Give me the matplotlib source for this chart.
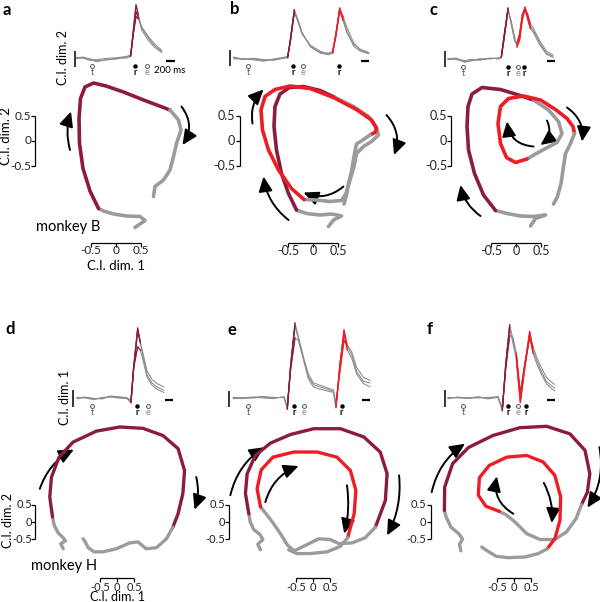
import matplotlib.pyplot as plt
from matplotlib.patches import FancyArrowPatch

plt.rcParams['font.family'] = ['Lato', 'DejaVu Sans']

DARK = '#8b1c3d'
RED = '#ee1d25'
GRAY = '#9b9b9b'
TGRAY = '#8a8a8a'

W, H = 600, 602

# ---------------- neural trajectories (C.I. dim. 1, C.I. dim. 2) ----------------
a_start = [(0.38, -1.73), (0.58, -1.59), (0.48, -1.51), (0.21, -1.50), (-0.05, -1.46),
           (-0.25, -1.40), (-0.35, -1.35)]
a_reach = [(-0.35, -1.35), (-0.52, -1.0), (-0.66, -0.55), (-0.73, -0.05), (-0.74, 0.45),
           (-0.71, 0.85), (-0.62, 1.08), (-0.45, 1.16), (-0.2, 1.1), (0.15, 0.98),
           (0.55, 0.82), (1.08, 0.62)]
a_end = [(1.08, 0.62), (1.25, 0.42), (1.30, 0.22), (1.21, -0.05), (1.15, -0.31),
         (1.08, -0.58), (0.95, -0.78), (0.78, -0.91), (0.75, -1.11)]

b_start = [(0.31, -1.71), (0.41, -1.58), (0.57, -1.5), (0.37, -1.46), (0.14, -1.48),
           (-0.13, -1.45), (-0.33, -1.38)]
b_reach1 = [(-0.33, -1.38), (-0.49, -1.05), (-0.63, -0.65), (-0.73, -0.18), (-0.78, 0.29),
            (-0.76, 0.69), (-0.66, 0.94), (-0.47, 1.07), (-0.19, 1.09), (0.14, 1.01),
            (0.44, 0.87)]
b_mid = [(0.44, 0.87), (0.81, 0.69), (1.11, 0.49), (1.26, 0.29), (1.31, 0.12), (1.17, -0.01),
         (1.01, -0.11), (0.87, -0.25), (0.82, -0.51), (0.74, -0.78), (0.66, -1.05),
         (0.57, -1.19), (0.34, -1.21), (0.07, -1.18), (-0.18, -1.17)]
b_reach2 = [(-0.18, -1.17), (-0.43, -0.95), (-0.69, -0.58), (-0.89, -0.18), (-1.01, 0.22),
            (-1.04, 0.62), (-0.96, 0.89), (-0.76, 1.03), (-0.46, 1.1), (-0.06, 1.05),
            (0.41, 0.87), (0.87, 0.63), (1.17, 0.42), (1.27, 0.25), (1.24, 0.17), (1.14, 0.12)]
b_end = [(1.14, 0.12), (1.01, 0.03), (0.87, -0.06), (0.82, -0.31), (0.77, -0.61),
         (0.71, -0.85), (0.67, -1.08), (0.62, -1.26)]

c_start = [(0.29, -1.7), (0.39, -1.55), (0.59, -1.48), (0.35, -1.51), (0.09, -1.5),
           (-0.18, -1.45), (-0.41, -1.39)]
c_reach1 = [(-0.41, -1.39), (-0.65, -1.08), (-0.83, -0.65), (-0.95, -0.18), (-0.98, 0.29),
            (-0.96, 0.69), (-0.88, 0.94), (-0.68, 1.07), (-0.31, 1.03), (0.05, 0.92),
            (0.35, 0.82)]
c_mid = [(0.35, 0.82), (0.65, 0.62), (0.85, 0.39), (0.92, 0.15), (0.82, -0.03),
         (0.59, -0.15), (0.39, -0.26), (0.22, -0.36)]
c_reach2 = [(0.22, -0.36), (-0.01, -0.43), (-0.19, -0.33), (-0.31, -0.05), (-0.36, 0.35),
            (-0.31, 0.69), (-0.15, 0.85), (0.15, 0.9), (0.49, 0.82), (0.79, 0.63),
            (1.02, 0.45), (1.14, 0.29), (1.17, 0.15)]
c_end = [(1.17, 0.15), (1.09, -0.05), (0.99, -0.25), (0.95, -0.51), (0.9, -0.85),
         (0.83, -1.11), (0.75, -1.26)]

d_start = [(-1.57, -0.78), (-1.64, -0.63), (-1.5, -0.55), (-1.57, -0.46), (-1.72, -0.31),
           (-1.83, -0.1), (-1.88, 0.15)]
d_reach = [(-1.88, 0.15), (-1.96, 0.73), (-1.91, 1.31), (-1.69, 1.89), (-1.28, 2.33),
           (-0.6, 2.65), (0.08, 2.77), (0.76, 2.73), (1.34, 2.52), (1.78, 2.14),
           (1.97, 1.5), (1.92, 0.83), (1.78, 0.24), (1.63, -0.15)]
d_end = [(1.63, -0.15), (1.44, -0.49), (1.15, -0.75), (0.85, -0.78), (0.61, -0.58),
         (0.37, -0.61), (-0.02, -0.78), (-0.41, -0.87), (-0.67, -0.87), (-0.84, -0.75),
         (-0.94, -0.55), (-0.99, -0.49)]

e_start = [(-1.53, -0.81), (-1.61, -0.65), (-1.46, -0.51), (-1.55, -0.36), (-1.73, -0.22),
           (-1.83, 0.0), (-1.87, 0.24)]
e_reach1 = [(-1.87, 0.24), (-1.97, 0.83), (-1.92, 1.41), (-1.68, 1.94), (-1.24, 2.3),
            (-0.66, 2.55), (0.02, 2.72), (0.8, 2.72), (1.48, 2.48), (1.96, 2.04),
            (2.16, 1.41), (2.11, 0.63), (1.82, -0.15)]
e_mid = [(1.82, -0.15), (1.52, -0.46), (1.14, -0.61), (0.75, -0.63), (0.5, -0.51),
         (0.17, -0.49), (-0.22, -0.68), (-0.54, -0.84), (-0.74, -0.68), (-0.95, -0.34),
         (-1.22, 0.05), (-1.53, 0.44)]
e_reach2 = [(-1.53, 0.44), (-1.63, 0.97), (-1.51, 1.52), (-1.17, 1.89), (-0.56, 2.04),
            (0.12, 2.04), (0.7, 1.89), (1.09, 1.5), (1.25, 0.92), (1.2, 0.24), (1.01, -0.46)]
e_end = [(1.01, -0.46), (0.8, -0.71), (0.41, -0.87), (-0.08, -0.92), (-0.47, -0.92),
         (-0.71, -0.81)]

f_start = [(-1.55, -0.84), (-1.59, -0.65), (-1.5, -0.5), (-1.61, -0.34), (-1.84, -0.15),
           (-1.98, 0.15), (-2.03, 0.34)]
f_reach1 = [(-2.03, 0.34), (-2.02, 1.02), (-1.79, 1.7), (-1.33, 2.17), (-0.62, 2.52),
            (0.17, 2.75), (0.95, 2.79), (1.63, 2.57), (2.07, 2.09), (2.21, 1.41),
            (2.14, 0.87), (1.97, 0.51)]
f_mid = [(1.97, 0.51), (1.81, 0.1), (1.53, -0.29), (1.19, -0.51), (0.76, -0.51),
         (0.37, -0.34), (0.03, 0.0), (-0.23, 0.21), (-0.43, 0.31)]
f_reach2 = [(-0.43, 0.31), (-0.82, 0.46), (-1.04, 0.78), (-1.01, 1.29), (-0.72, 1.65),
            (-0.21, 1.89), (0.37, 1.94), (0.85, 1.75), (1.19, 1.36), (1.36, 0.73),
            (1.34, 0.05), (1.19, -0.49), (0.97, -0.78)]
f_end = [(0.97, -0.78), (0.71, -0.92), (0.32, -1.02), (-0.17, -1.04), (-0.52, -1.0),
         (-0.78, -0.84), (-0.94, -0.73)]

# direction arrows: (start, end, curvature)
a_arrows = [((-0.92, -0.18), (-0.9, 0.59), -0.15), ((1.31, 0.69), (1.33, -0.08), -0.35)]
b_arrows = [((-1.21, 0.35), (-0.99, 1.03), -0.25), ((-0.49, -1.58), (-0.99, -0.71), -0.2),
            ((1.47, 0.52), (1.62, -0.28), -0.3), ((0.61, -0.91), (-0.19, -1.03), -0.3)]
c_arrows = [((-0.71, -1.5), (-1.11, -0.88), -0.2), ((0.35, -0.11), (-0.18, 0.39), -0.4),
            ((0.62, 0.41), (0.49, -0.08), -0.4), ((1.02, 0.67), (1.32, -0.01), -0.3)]
d_arrows = [((-2.25, 0.97), (-1.26, 2.11), -0.2), ((2.31, 1.31), (2.26, 0.36), -0.15)]
e_arrows = [((-2.41, 0.78), (-1.42, 2.18), -0.2), ((-1.39, 0.58), (-0.42, 1.63), -0.25),
            ((0.99, 1.07), (0.91, -0.34), -0.1), ((2.51, 1.36), (2.16, -0.39), -0.15)]
f_arrows = [((-2.4, 0.87), (-1.43, 2.28), -0.2), ((-0.02, 0.24), (-0.5, 1.33), -0.35),
            ((0.87, 1.14), (1.1, -0.03), -0.15), ((2.49, 2.18), (2.14, 0.42), -0.2)]

# ---------------- single-trial projections over time (ms, relative to first reach) ----------------
a_ms = [-1400, -1240, -1080, -920, -680, -440, -200, -104, -40, 24, 80, 160, 320, 480, 640]
a_tr1 = [0, 0.06, -0.1, -0.23, -0.1, -0.06, 0.06, 0.15, 1.77, 3.33, 2.71, 1.88, 1.25, 0.73, 0.42]
a_tr2 = [0.04, -0.02, -0.15, -0.1, -0.02, 0.02, 0.1, 0.2, 1.5, 2.6, 2.45, 1.95, 1.35, 0.85, 0.5]
a_tr3 = [-0.04, 0.02, -0.05, -0.18, -0.12, -0.02, 0.0, 0.1, 1.6, 2.9, 2.55, 1.75, 1.1, 0.65, 0.35]

b_ms = [-1424, -1184, -944, -704, -464, -224, -128, -64, 32, 112, 216, 416, 656, 856, 952,
        1032, 1120, 1200, 1296, 1456, 1616, 1816]
b_tr1 = [0.06, -0.1, -0.06, -0.15, -0.1, 0, 0.06, 1.15, 3.02, 2.4, 1.56, 0.73, 0.35, 0.31,
         0.42, 1.56, 3.13, 2.5, 1.67, 0.73, 0.42, 0.27]
b_tr2 = [0.0, -0.04, -0.12, -0.2, -0.06, 0.04, 0.1, 1.0, 2.85, 2.3, 1.5, 0.8, 0.42, 0.25,
         0.35, 1.4, 2.95, 2.6, 1.9, 0.95, 0.5, 0.3]
b_tr3 = [-0.04, -0.08, -0.02, -0.1, -0.14, -0.02, 0.02, 1.1, 2.95, 2.45, 1.6, 0.7, 0.3, 0.2,
         0.3, 1.5, 3.05, 2.35, 1.55, 0.85, 0.55, 0.35]

c_ms = [-1440, -1240, -1040, -880, -680, -440, -200, -160, -80, 0, 80, 160, 216, 280, 344,
        408, 472, 536, 600, 760, 920, 1080]
c_tr1 = [0, 0.06, -0.21, -0.08, -0.04, 0.04, 0.04, 0.13, 1.63, 3.19, 2.25, 1.21, 0.9, 1.42,
         2.67, 3.25, 2.67, 2.04, 1.83, 1.0, 0.38, 0.17]
c_tr2 = [0.04, -0.04, -0.15, -0.12, 0.02, 0.0, 0.08, 0.1, 1.5, 3.05, 2.35, 1.35, 0.75, 1.2,
         2.45, 3.1, 2.8, 2.2, 1.95, 1.15, 0.5, 0.25]
c_tr3 = [-0.04, 0.02, -0.1, -0.02, -0.08, 0.06, 0.0, 0.16, 1.7, 3.1, 2.1, 1.1, 1.0, 1.6,
         2.8, 3.15, 2.5, 1.9, 1.7, 0.9, 0.3, 0.1]

d_ms = [-1440, -1240, -1040, -840, -640, -440, -240, -144, -80, 16, 80, 160, 240, 360, 480, 640]
d_tr1 = [0, 0.06, -0.06, -0.02, 0.1, 0.04, 0, -0.21, 1.98, 4.38, 3.44, 2.4, 1.46, 0.94, 0.69, 0.48]
d_tr2 = [0.04, 0.0, -0.1, 0.04, 0.06, 0.0, -0.04, -0.3, 1.8, 4.2, 3.5, 2.6, 1.7, 1.15, 0.9, 0.7]
d_tr3 = [-0.04, 0.04, -0.02, -0.06, 0.12, 0.08, 0.02, -0.15, 1.9, 3.2, 3.0, 2.2, 1.3, 0.8, 0.55, 0.35]

e_ms = [-1456, -1216, -976, -736, -496, -240, -160, -80, 24, 104, 224, 344, 464, 624, 784,
        944, 1008, 1104, 1200, 1280, 1384, 1504, 1664, 1824]
e_tr1 = [0, -0.04, 0.04, 0.1, 0, 0.06, -0.63, 1.98, 4.69, 3.85, 2.6, 1.35, 0.83, 0.69, 0.56,
         0.42, -0.52, 1.98, 4.27, 3.23, 2.71, 1.67, 1.04, 0.94]
e_tr2 = [0.04, 0.0, 0.0, 0.06, 0.04, 0.02, -0.5, 1.8, 3.75, 3.6, 2.5, 1.5, 0.95, 0.8, 0.65,
         0.5, -0.3, 1.7, 3.6, 3.3, 2.9, 1.9, 1.3, 1.1]
e_tr3 = [-0.04, 0.02, 0.06, 0.0, -0.04, 0.08, -0.7, 2.1, 4.5, 3.7, 2.4, 1.2, 0.7, 0.55, 0.45,
         0.35, -0.6, 2.2, 4.0, 3.0, 2.5, 1.5, 0.9, 0.7]

f_ms = [-1440, -1200, -960, -720, -480, -240, -136, -56, 40, 120, 200, 296, 400, 520, 600,
        696, 800, 920, 1040, 1120]
f_tr1 = [0, 0.04, -0.04, 0.06, -0.02, 0.1, -0.73, 1.98, 4.58, 3.65, 2.6, -0.1, 1.98, 4.17,
         3.02, 2.29, 1.67, 1.04, 0.77, 0.63]
f_tr2 = [0.04, 0.0, 0.02, 0.0, 0.04, 0.06, -0.6, 1.8, 3.9, 3.8, 2.8, 0.3, 2.1, 3.8, 3.2,
         2.5, 1.9, 1.3, 1.0, 0.85]
f_tr3 = [-0.04, 0.06, -0.02, 0.08, -0.06, 0.04, -0.8, 2.1, 4.4, 3.4, 2.4, -0.3, 1.8, 3.9,
         2.8, 2.1, 1.5, 0.9, 0.6, 0.45]

# event times (ms): target on, reach, reward
a_events = [('t', -1032), ('r', 0), ('e', 288)]
b_events = [('t', -1072), ('r', 0), ('e', 232), ('r', 1112)]
c_events = [('t', -1072), ('r', 0), ('e', 248), ('r', 392)]
d_events = [('t', -1080), ('r', 0), ('e', 264)]
e_events = [('t', -1096), ('r', 0), ('e', 240), ('r', 1144)]
f_events = [('t', -1072), ('r', 0), ('e', 248), ('r', 432)]

# time windows coloured as first / second reach
a_win = [(-104, 80), None]
b_win = [(-128, 32), (952, 1200)]
c_win = [(-160, 0), (216, 536)]
d_win = [(-144, 80), None]
e_win = [(-160, 24), (1008, 1280)]
f_win = [(-136, 40), (200, 600)]

tick_vals = [-0.5, 0, 0.5]
tick_text = ['-0.5', '0', '0.5']

fig = plt.figure(figsize=(6.0, 6.02), dpi=100)


def px_axes(box):
    x0, y0, x1, y1 = box
    ax = fig.add_axes([x0 / W, 1 - y1 / H, (x1 - x0) / W, (y1 - y0) / H])
    ax.axis('off')
    ax.patch.set_visible(False)
    return ax


def traj_axes(box, origin, s):
    ax = px_axes(box)
    ax.set_xlim((box[0] - origin[0]) / s, (box[2] - origin[0]) / s)
    ax.set_ylim((origin[1] - box[3]) / s, (origin[1] - box[1]) / s)
    return ax


def trace_axes(box, origin):
    # 24 ms per pixel, 16 pixels per unit
    ax = px_axes(box)
    ax.set_xlim((box[0] - origin[0]) * 24, (box[2] - origin[0]) * 24)
    ax.set_ylim((origin[1] - box[3]) / 16, (origin[1] - box[1]) / 16)
    return ax


def draw_traj(ax, segments, lw):
    for pts, col in segments:
        xs, ys = zip(*pts)
        ax.plot(xs, ys, color=col, lw=lw, solid_joinstyle='round',
                solid_capstyle='round', clip_on=False)


def draw_arrows(ax, arrows):
    for p0, p1, rad in arrows:
        ax.add_patch(FancyArrowPatch(p0, p1, connectionstyle=f'arc3,rad={rad}',
                                     arrowstyle='-|>,head_length=0.75,head_width=0.35',
                                     mutation_scale=12, lw=1.4, color='black',
                                     shrinkA=0, shrinkB=0, clip_on=False))


def traj_bars(ax, vx, hy, tick, labx, laby, fs):
    k = dict(color='black', lw=0.9, solid_capstyle='butt', clip_on=False)
    ax.plot([vx, vx], [-0.5, 0.5], **k)
    ax.plot([-0.5, 0.5], [hy, hy], **k)
    for v, t in zip(tick_vals, tick_text):
        ax.plot([vx - tick, vx], [v, v], **k)
        ax.plot([v, v], [hy, hy - tick], **k)
        ax.text(labx, v, t, ha='right', va='center', fontsize=fs, color='#222222')
        ax.text(v, laby, t, ha='center', va='center', fontsize=fs, color='#222222')


def draw_trace(ax, ms, trials, wins, events, vbar, hbar):
    for tr in trials:
        ax.plot(ms, tr, color=TGRAY, lw=0.75)
    for win, col in zip(wins, (DARK, RED)):
        if win is None:
            continue
        for tr in trials:
            sel = [(m, v) for m, v in zip(ms, tr) if win[0] <= m <= win[1]]
            xs, ys = zip(*sel)
            ax.plot(xs, ys, color=col, lw=0.9)
    for lab, t in events:
        if lab == 'r':
            ax.plot(t, -0.5, 'o', ms=2.2, color='black')
            ax.text(t, -0.9, 'r', ha='center', va='center', fontsize=6.5,
                    fontweight='bold', color='black')
        else:
            ax.plot(t, -0.5, 'o', ms=2.8, mfc='white', mec='#555555', mew=0.7)
            ax.text(t, -0.9, lab, ha='center', va='center', fontsize=6.5,
                    color='#555555' if lab == 't' else '#888888')
    vx, v0, v1 = vbar
    ax.plot([vx, vx], [v0, v1], color='black', lw=1.1, solid_capstyle='butt')
    hx, hy = hbar
    ax.plot([hx, hx + 200], [hy, hy], color='black', lw=1.6, solid_capstyle='butt')


# ---------------- panel layout ----------------
panels = [
    dict(box=(0, 0, 200, 300), origin=(116, 141), s=50, lw=2.6,
         segs=[(a_start, GRAY), (a_reach, DARK), (a_end, GRAY)], arrows=a_arrows,
         bars=(-1.62, -2.04, 0.08, -1.69, -2.2, 8.5),
         t_origin=(135, 58), ms=a_ms, trials=[a_tr1, a_tr2, a_tr3], win=a_win,
         events=a_events, vbar=(-1440, -0.55, 0.45), hbar=(750, -0.19)),
    dict(box=(200, 0, 400, 300), origin=(313, 141), s=50, lw=2.6,
         segs=[(b_start, GRAY), (b_reach1, DARK), (b_mid, GRAY), (b_reach2, RED),
               (b_end, GRAY)], arrows=b_arrows,
         bars=(-1.46, -2.04, 0.08, -1.56, -2.2, 9),
         t_origin=(293, 58), ms=b_ms, trials=[b_tr1, b_tr2, b_tr3], win=b_win,
         events=b_events, vbar=(-1512, -0.5, 0.5), hbar=(1632, -0.19)),
    dict(box=(400, 0, 600, 300), origin=(516, 141), s=50, lw=2.6,
         segs=[(c_start, GRAY), (c_reach1, DARK), (c_mid, GRAY), (c_reach2, RED),
               (c_end, GRAY)], arrows=c_arrows,
         bars=(-1.3, -2.04, 0.08, -1.38, -2.2, 9),
         t_origin=(508, 59), ms=c_ms, trials=[c_tr1, c_tr2, c_tr3], win=c_win,
         events=c_events, vbar=(-1512, -0.5, 0.5), hbar=(936, -0.13)),
    dict(box=(0, 300, 200, 602), origin=(117, 522), s=34.3, lw=2.4,
         segs=[(d_start, GRAY), (d_reach, DARK), (d_end, GRAY)], arrows=d_arrows,
         bars=(-2.39, -1.63, 0.12, -2.48, -1.9, 8),
         t_origin=(137, 398), ms=d_ms, trials=[d_tr1, d_tr2, d_tr3], win=d_win,
         events=d_events, vbar=(-1536, -0.56, 0.5), hbar=(672, -0.13)),
    dict(box=(200, 300, 400, 602), origin=(313, 522), s=34.3, lw=2.4,
         segs=[(e_start, GRAY), (e_reach1, DARK), (e_mid, GRAY), (e_reach2, RED),
               (e_end, GRAY)], arrows=e_arrows,
         bars=(-2.45, -1.63, 0.12, -2.57, -1.9, 8),
         t_origin=(294, 398), ms=e_ms, trials=[e_tr1, e_tr2, e_tr3], win=e_win,
         events=e_events, vbar=(-1560, -0.55, 0.45), hbar=(1632, -0.13)),
    dict(box=(400, 300, 600, 602), origin=(514, 522), s=34.3, lw=2.4,
         segs=[(f_start, GRAY), (f_reach1, DARK), (f_mid, GRAY), (f_reach2, RED),
               (f_end, GRAY)], arrows=f_arrows,
         bars=(-2.43, -1.63, 0.12, -2.57, -1.9, 8),
         t_origin=(508, 398), ms=f_ms, trials=[f_tr1, f_tr2, f_tr3], win=f_win,
         events=f_events, vbar=(-1512, -0.55, 0.5), hbar=(936, -0.13)),
]

traj_ax = []
trace_ax = []
for p in panels:
    ax = traj_axes(p['box'], p['origin'], p['s'])
    draw_traj(ax, p['segs'], p['lw'])
    draw_arrows(ax, p['arrows'])
    traj_bars(ax, *p['bars'])
    traj_ax.append(ax)

    tx = trace_axes(p['box'], p['t_origin'])
    draw_trace(tx, p['ms'], p['trials'], p['win'], p['events'], p['vbar'], p['hbar'])
    trace_ax.append(tx)

# axis labels and annotations
traj_ax[0].text(-2.19, 0.1, 'C.I. dim. 2', rotation=90, ha='center', va='center', fontsize=9.5)
traj_ax[0].text(0, -2.5, 'C.I. dim. 1', ha='center', va='center', fontsize=9.5)
traj_ax[0].text(-0.96, -1.72, 'monkey B', ha='center', va='center', fontsize=10.5)
traj_ax[3].text(-3.18, 0.05, 'C.I. dim. 2', rotation=90, ha='center', va='center', fontsize=9)
traj_ax[3].text(0, -2.2, 'C.I. dim. 1', ha='center', va='center', fontsize=9)
traj_ax[3].text(-1.55, -1.28, 'monkey H', ha='center', va='center', fontsize=10.5)

trace_ax[0].text(-1728, 0.05, 'C.I. dim. 2', rotation=90, ha='center', va='center', fontsize=9)
trace_ax[0].text(840, -0.8, '200 ms', ha='center', va='center', fontsize=7)
trace_ax[3].text(-1728, 0.05, 'C.I. dim. 1', rotation=90, ha='center', va='center', fontsize=9)

for lab, (x, y) in zip('abcdef', [(3, 10), (230, 9), (429, 10), (5, 329), (228, 330), (427, 329)]):
    fig.text(x / W, 1 - y / H, lab, fontsize=12, fontweight='bold', ha='left', va='center')

fig.savefig('out.png', dpi=100)
